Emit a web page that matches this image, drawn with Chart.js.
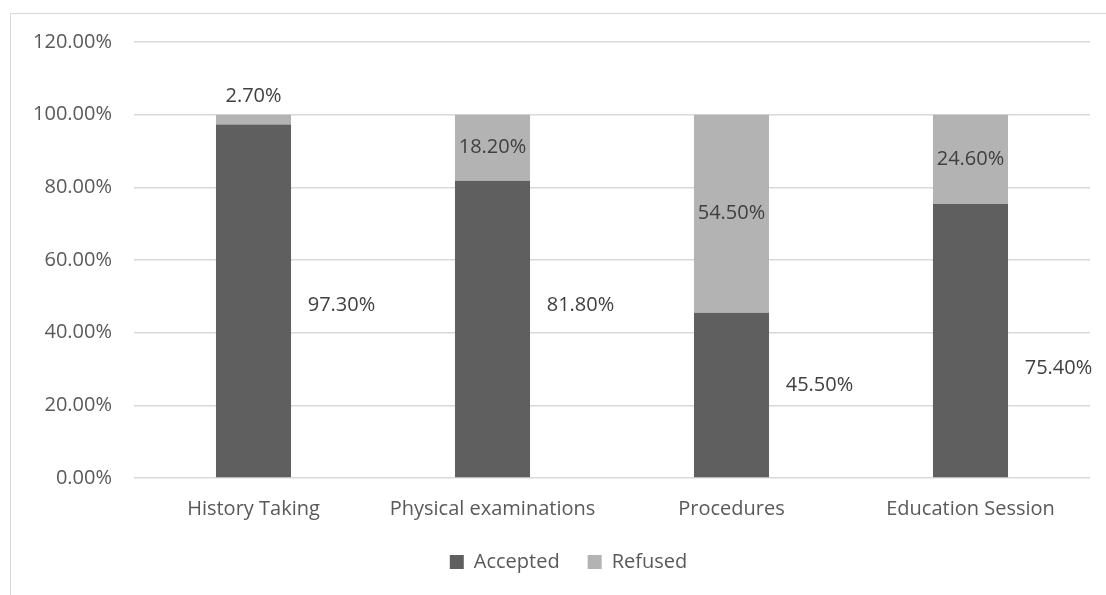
<!DOCTYPE html>
<html>
<head>
<meta charset="utf-8">
<script src="https://cdn.jsdelivr.net/npm/chart.js@4/dist/chart.umd.min.js"></script>
<style>
    html, body { margin: 0; padding: 0; background: #fff; overflow: hidden; }
    #frame {
        position: absolute;
        left: 10px;
        top: 13px;
        width: 1110px;
        height: 600px;
        border: 1px solid #d9d9d9;
    }
    #wrap { position: absolute; left: 0; top: 0; width: 1095px; height: 581px; }
</style>
</head>
<body>
<div id="frame">
    <div id="wrap"><canvas id="popChart"></canvas></div>
</div>
<script>
const categories = ["History Taking", "Physical examinations", "Procedures", "Education Session"];
const accepted = [97.3, 81.8, 45.5, 75.4];
const refused = [2.7, 18.2, 54.5, 24.6];
const yTicks = [0, 20, 40, 60, 80, 100, 120];

// where Excel parked the "Accepted" labels (value units, to the right of each bar)
const acceptedLabelAt = [47.4, 47.4, 25.6, 30.3];

const fontFamily = "'Open Sans', sans-serif";

const barLabels = {
    id: "barLabels",
    afterDatasetsDraw(chart) {
        const ctx = chart.ctx;
        const yScale = chart.scales.y;
        ctx.save();
        ctx.font = "20px " + fontFamily;
        ctx.fillStyle = "#404040";
        ctx.textAlign = "center";
        ctx.textBaseline = "middle";

        chart.getDatasetMeta(0).data.forEach((bar, i) => {
            const y = yScale.getPixelForValue(acceptedLabelAt[i]);
            ctx.fillText(accepted[i].toFixed(2) + "%", bar.x + 88, y);
        });

        chart.getDatasetMeta(1).data.forEach((bar, i) => {
            const h = bar.base - bar.y;
            let y = (bar.y + bar.base) / 2;
            if (h < 24) {
                y = bar.y - 18;
            }
            ctx.fillText(refused[i].toFixed(2) + "%", bar.x, y);
        });
        ctx.restore();
    },
};

// nudge the legend so it sits where Excel had it (centred on the whole frame)
const legendNudge = {
    id: "legendNudge",
    afterLayout(chart) {
        const lg = chart.legend;
        if (!lg) return;
        lg.left += 18;
        lg.right += 18;
        lg.top -= 16;
        lg.bottom -= 16;
    },
};

const popCanvas = document.getElementById("popChart");

var barChart = new Chart(popCanvas, {
    type: "bar",
    data: {
        labels: categories,
        datasets: [
            {
                label: "Accepted",
                data: accepted,
                backgroundColor: "#5f5f5f",
                barPercentage: 0.314,
                categoryPercentage: 1,
            },
            {
                label: "Refused",
                data: refused,
                backgroundColor: "#b3b3b3",
                barPercentage: 0.314,
                categoryPercentage: 1,
            },
        ],
    },
    options: {
        responsive: true,
        maintainAspectRatio: false,
        animation: false,
        layout: {
            padding: { left: 0, right: 16, top: 0, bottom: -3 },
        },
        scales: {
            x: {
                stacked: true,
                grid: { display: false, drawTicks: false },
                border: { display: false },
                ticks: {
                    color: "#595959",
                    font: { family: fontFamily, size: 20 },
                    padding: 19,
                },
            },
            y: {
                stacked: true,
                min: 0,
                max: 120,
                afterBuildTicks: (scale) => {
                    scale.ticks = yTicks.map((v) => ({ value: v }));
                },
                afterFit: (scale) => {
                    scale.width = 123;
                    scale.paddingTop = 28;
                    scale.paddingBottom = 0;
                },
                grid: {
                    color: "#d9d9d9",
                    lineWidth: 1.5,
                    drawTicks: false,
                },
                border: { display: false },
                ticks: {
                    color: "#595959",
                    font: { family: fontFamily, size: 20 },
                    padding: 22,
                    callback: (v) => v.toFixed(2) + "%",
                },
            },
        },
        plugins: {
            legend: {
                position: "bottom",
                labels: {
                    color: "#595959",
                    font: { family: fontFamily, size: 20 },
                    boxWidth: 14,
                    boxHeight: 14,
                    padding: 28,
                },
            },
            tooltip: { enabled: false },
        },
    },
    plugins: [barLabels, legendNudge],
});
</script>
</body>
</html>
